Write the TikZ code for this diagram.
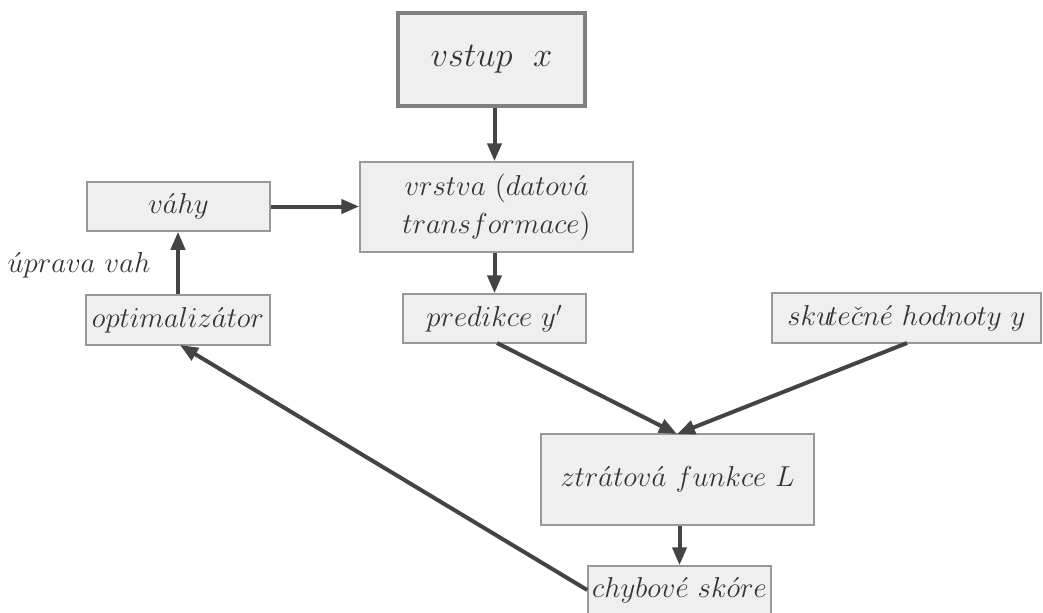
\documentclass[tikz,border=0pt]{standalone}
\usetikzlibrary{arrows.meta}
\definecolor{boxfill}{HTML}{EFEFEF}
\definecolor{boxdraw}{HTML}{999999}
\definecolor{bigdraw}{HTML}{808080}
\definecolor{txt}{HTML}{333333}
\definecolor{arr}{HTML}{444444}
\begin{document}
\begin{tikzpicture}[x=0.5pt,y=-0.5pt,
  box/.style={draw=boxdraw,line width=0.75pt,fill=boxfill,text=txt,inner sep=0pt,align=center,
    font=\fontsize{14}{19}\selectfont},
  bigbox/.style={draw=bigdraw,line width=2pt,fill=boxfill,text=black!80,inner sep=0pt,
    font=\fontsize{17}{21}\selectfont},
  link/.style={draw=arr,line width=2pt,-{Triangle[length=9pt,width=7pt]}}]
\useasboundingbox (0,0) rectangle (1043,612);
\node[bigbox,minimum width=93.5pt,minimum height=46.5pt] (in) at (491.5,59.5) {$vstup\ \ x$};
\node[box,minimum width=136.5pt,minimum height=45pt] (layer) at (496.5,207) {$vrstva\ (datov\acute{a}$\\$transformace)$};
\node[box,minimum width=91.5pt,minimum height=24.5pt] (w) at (178.5,206.5) {$v\acute{a}hy$};
\node[box,minimum width=92pt,minimum height=25pt] (opt) at (178,320) {$optimaliz\acute{a}tor$};
\node[box,minimum width=91.5pt,minimum height=24.5pt] (pred) at (494.5,318.5) {$predikce\ y'$};
\node[box,minimum width=134.5pt,minimum height=25pt] (true) at (906.5,318) {$sku\!te\check{c}n\acute{e}\ hodnoty\ y$};
\node[box,minimum width=136.5pt,minimum height=45.5pt] (loss) at (677.5,479.5) {$ztr\acute{a}tov\acute{a}\ funkce\ L$};
\node[box,minimum width=91.5pt,minimum height=24pt] (score) at (679.5,590) {$chybov\acute{e}\ sk\acute{o}re$};
\node[text=txt,font=\fontsize{14}{19}\selectfont] (lbl) at (79,265) {$\acute{u}prava\ vah$};
\draw[link] (in.south -| pred.north) -- (layer.north -| pred.north);
\draw[link] (w.east) -- (layer.west |- w.east);
\draw[link] (opt.north) -- (opt.north |- w.south);
\draw[link] (layer.south -| pred.north) -- (pred.north);
\coordinate (lt) at (677,434);
\draw[link] (497,343) -- (lt);
\draw[link] (907,343) -- (lt);
\draw[link] (loss.south -| score.north) -- (score.north);
\draw[link] (score.west) -- (180,345);
\end{tikzpicture}
\end{document}
